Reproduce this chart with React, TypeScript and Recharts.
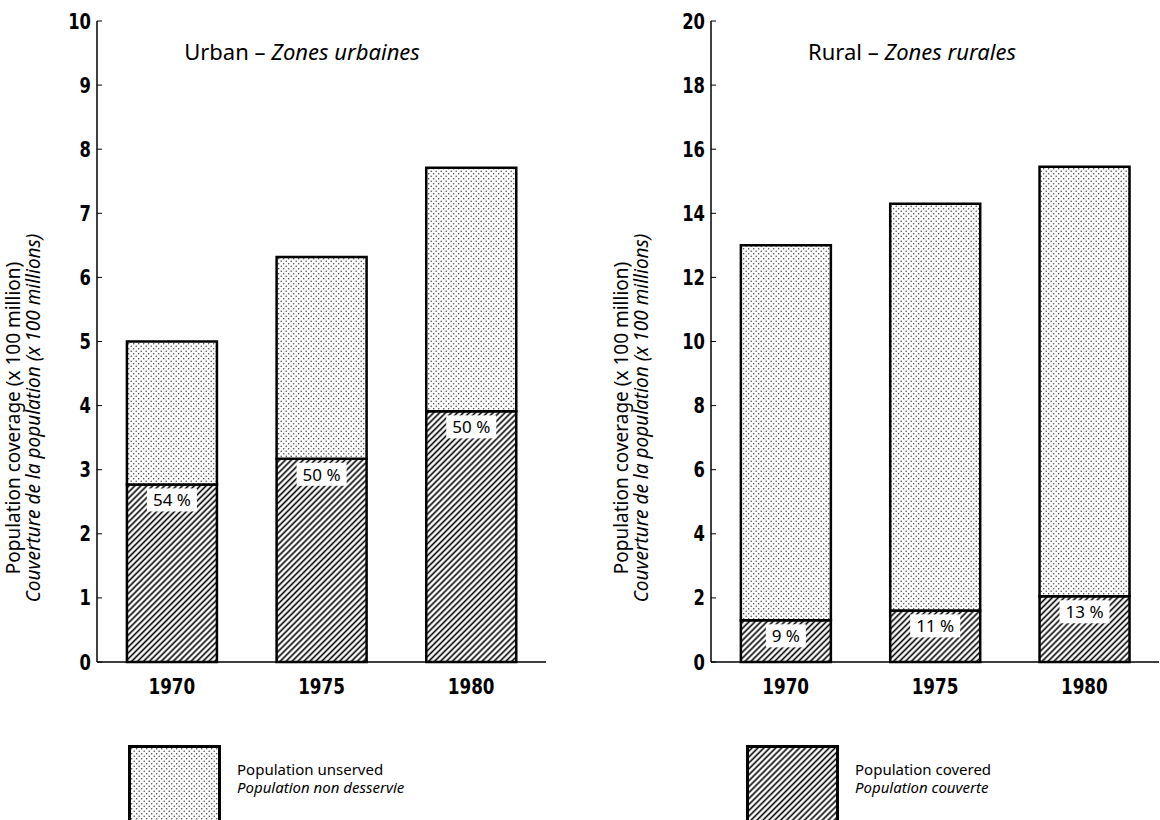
import React from 'react';
import { BarChart, Bar, XAxis, YAxis, Legend, LabelList } from 'recharts';

const years = ['1970', '1975', '1980'];

const urbanCovered = [2.77, 3.17, 3.91];
const urbanUnserved = [2.23, 3.15, 3.8];
const urbanShare = ['54 %', '50 %', '50 %'];
const urbanTicks = [0, 1, 2, 3, 4, 5, 6, 7, 8, 9, 10];

const ruralCovered = [1.3, 1.61, 2.05];
const ruralUnserved = [11.7, 12.69, 13.4];
const ruralShare = ['9 %', '11 %', '13 %'];
const ruralTicks = [0, 2, 4, 6, 8, 10, 12, 14, 16, 18, 20];

const urbanData = years.map((year, i) => ({
  year,
  covered: urbanCovered[i],
  unserved: urbanUnserved[i],
  share: urbanShare[i],
}));

const ruralData = years.map((year, i) => ({
  year,
  covered: ruralCovered[i],
  unserved: ruralUnserved[i],
  share: ruralShare[i],
}));

const textFont = "'Noto Sans', 'Open Sans', sans-serif";
const tickFont = "'DejaVu Sans', 'Roboto', sans-serif";

function Patterns({ id }: { id: string }) {
  return (
    <defs>
      <pattern id={`dots-${id}`} width="5" height="5" patternUnits="userSpaceOnUse">
        <rect width="5" height="5" fill="#fff" />
        <circle cx="1.2" cy="1.2" r="0.75" fill="#444" />
        <circle cx="3.7" cy="3.7" r="0.75" fill="#444" />
      </pattern>
      <pattern
        id={`hatch-${id}`}
        width="4.2"
        height="4.2"
        patternUnits="userSpaceOnUse"
        patternTransform="rotate(45)"
      >
        <rect width="4.2" height="4.2" fill="#fff" />
        <line x1="2.1" y1="0" x2="2.1" y2="4.2" stroke="#000" strokeWidth="1.6" />
      </pattern>
    </defs>
  );
}

// condensed bold numbers, like the printed axis
const YTick = (props: any) => {
  const { x, y, payload } = props;
  return (
    <g transform={`translate(${x},${y})`}>
      <line x1={6} y1={0} x2={11} y2={0} stroke="#000" strokeWidth={1} />
      <text
        transform="scale(0.78,1)"
        textAnchor="end"
        dy="0.36em"
        fontFamily={tickFont}
        fontWeight="bold"
        fontSize={21}
        fill="#000"
      >
        {payload.value}
      </text>
    </g>
  );
};

const XTick = (props: any) => {
  const { x, y, payload } = props;
  return (
    <g transform={`translate(${x},${y})`}>
      <text
        transform="scale(0.8,1)"
        textAnchor="middle"
        dy="0.75em"
        fontFamily={tickFont}
        fontWeight="bold"
        fontSize={21}
        fill="#000"
      >
        {payload.value}
      </text>
    </g>
  );
};

const ShareTag = (props: any) => {
  const { x, y, width, value } = props;
  const cx = x + width / 2;
  const w = String(value).length * 10 + 10;
  return (
    <g>
      <rect x={cx - w / 2} y={y + 4} width={w} height={23} fill="#fff" />
      <text
        x={cx}
        y={y + 22}
        textAnchor="middle"
        fontFamily={textFont}
        fontSize={17}
        fill="#000"
      >
        {value}
      </text>
    </g>
  );
};

function LegendItem({ fill, line1, line2 }: { fill: string; line1: string; line2: string }) {
  return (
    <div style={{ display: 'flex', alignItems: 'flex-start' }}>
      <svg width={93} height={80} style={{ display: 'block' }}>
        <rect x={1.5} y={1.5} width={90} height={90} fill={fill} stroke="#000" strokeWidth={3} />
      </svg>
      <div
        style={{
          marginLeft: 16,
          marginTop: 15,
          fontFamily: textFont,
          fontSize: 15,
          lineHeight: '18px',
          color: '#000',
          whiteSpace: 'nowrap',
        }}
      >
        <div>{line1}</div>
        <div style={{ fontStyle: 'italic' }}>{line2}</div>
      </div>
    </div>
  );
}

function axisTitle(x1: number, x2: number, cy: number) {
  return () => (
    <g fontFamily={textFont} fontSize={19} fill="#000">
      <text x={x1} y={cy} transform={`rotate(-90, ${x1}, ${cy})`} textAnchor="middle" fill="#000">
        Population coverage (x 100 million)
      </text>
      <text
        x={x2}
        y={cy}
        transform={`rotate(-90, ${x2}, ${cy})`}
        textAnchor="middle"
        fontStyle="italic"
        fill="#000"
      >
        Couverture de la population (x 100 millions)
      </text>
    </g>
  );
}

function Panel({
  id,
  data,
  ticks,
  max,
  width,
  yAxisWidth,
  marginRight,
  title,
  sub,
  titleX,
  labelX,
  legendLeft,
  legend,
}: any) {
  return (
    <BarChart
      width={width}
      height={820}
      data={data}
      barCategoryGap="20%"
      margin={{ top: 21, right: marginRight, left: 0, bottom: 43 }}
    >
      <Patterns id={id} />
      <text x={titleX} y={60} textAnchor="middle" fontFamily={textFont} fontSize={22} fill="#000">
        <tspan>{title} – </tspan>
        <tspan fontStyle="italic">{sub}</tspan>
      </text>
      <XAxis
        dataKey="year"
        tickLine={false}
        axisLine={{ stroke: '#000', strokeWidth: 1.5 }}
        tick={<XTick />}
        tickMargin={10}
        height={40}
      />
      <XAxis
        xAxisId="top"
        dataKey="year"
        orientation="top"
        tick={false}
        tickLine={false}
        height={0}
        axisLine={{ stroke: '#000', strokeWidth: 1.5 }}
      />
      <YAxis
        domain={[0, max]}
        ticks={ticks}
        interval={0}
        width={yAxisWidth}
        tickLine={false}
        tickSize={0}
        tickMargin={6}
        axisLine={{ stroke: '#000', strokeWidth: 1.5 }}
        tick={<YTick />}
        label={{ content: axisTitle(labelX[0], labelX[1], 418) }}
      />
      <YAxis
        yAxisId="right"
        orientation="right"
        domain={[0, max]}
        tick={false}
        tickLine={false}
        width={0}
        axisLine={{ stroke: '#000', strokeWidth: 1.5 }}
      />
      <Legend
        verticalAlign="bottom"
        wrapperStyle={{ top: 745, left: legendLeft, bottom: 'auto', width: 'auto', height: 75 }}
        content={() => legend}
      />
      <Bar
        dataKey="covered"
        stackId="pop"
        fill={`url(#hatch-${id})`}
        stroke="#000"
        strokeWidth={2.5}
        isAnimationActive={false}
      >
        <LabelList dataKey="share" content={ShareTag} />
      </Bar>
      <Bar
        dataKey="unserved"
        stackId="pop"
        fill={`url(#dots-${id})`}
        stroke="#000"
        strokeWidth={2.5}
        isAnimationActive={false}
      />
    </BarChart>
  );
}

export default function App() {
  return (
    <div
      style={{
        position: 'absolute',
        left: 0,
        top: 0,
        width: 1160,
        height: 820,
        background: '#fff',
        overflow: 'hidden',
      }}
    >
      <div style={{ position: 'absolute', left: 0, top: 0 }}>
        <Panel
          id="u"
          data={urbanData}
          ticks={urbanTicks}
          max={10}
          width={560}
          yAxisWidth={97}
          marginRight={14}
          title="Urban"
          sub="Zones urbaines"
          titleX={302}
          labelX={[20, 40]}
          legendLeft={128}
          legend={
            <LegendItem
              fill="url(#dots-u)"
              line1="Population unserved"
              line2="Population non desservie"
            />
          }
        />
      </div>
      <div style={{ position: 'absolute', left: 560, top: 0 }}>
        <Panel
          id="r"
          data={ruralData}
          ticks={ruralTicks}
          max={20}
          width={600}
          yAxisWidth={151}
          marginRight={1}
          title="Rural"
          sub="Zones rurales"
          titleX={352}
          labelX={[68, 88]}
          legendLeft={186}
          legend={
            <LegendItem
              fill="url(#hatch-r)"
              line1="Population covered"
              line2="Population couverte"
            />
          }
        />
      </div>
    </div>
  );
}
